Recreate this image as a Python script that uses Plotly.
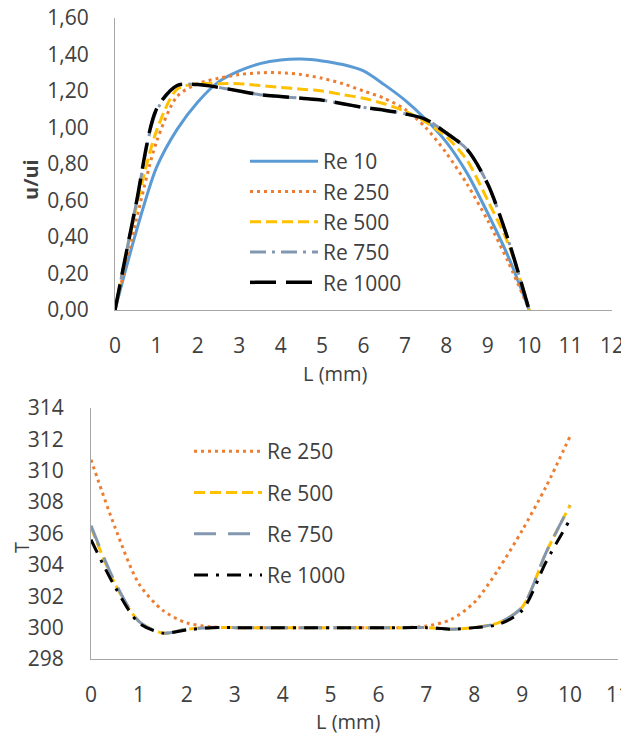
import plotly.graph_objects as go

# The page body adds an 8px offset; positions below are mapped from window pixels.
W, H = 629, 736
OFF = 8


def px_x(v):
    return (v - OFF) / W


def px_y(v):
    return 1 - (v - OFF) / H


# ---------------- data: top chart (u/ui vs L) ----------------
x_top = [0, 0.5, 1, 1.5, 2, 2.5, 3, 3.5, 4, 4.5, 5, 5.5, 6, 6.5, 7, 7.5, 8, 8.5, 9, 9.5, 10]
u_re10 = [0, 0.42, 0.78, 0.99, 1.14, 1.25, 1.31, 1.35, 1.37, 1.375, 1.365, 1.345, 1.31, 1.235, 1.15, 1.045, 0.92, 0.75, 0.53, 0.29, 0]
u_re250 = [0, 0.48, 0.92, 1.17, 1.24, 1.27, 1.29, 1.30, 1.30, 1.29, 1.27, 1.24, 1.20, 1.16, 1.10, 1.00, 0.86, 0.69, 0.49, 0.26, 0]
u_re500 = [0, 0.55, 0.98, 1.21, 1.24, 1.24, 1.24, 1.23, 1.22, 1.21, 1.20, 1.18, 1.16, 1.13, 1.09, 1.03, 0.95, 0.82, 0.60, 0.36, 0]
u_re750 = [0, 0.57, 1.09, 1.23, 1.235, 1.22, 1.20, 1.18, 1.17, 1.16, 1.15, 1.13, 1.11, 1.095, 1.075, 1.045, 0.97, 0.88, 0.69, 0.38, 0]
u_re1000 = [0, 0.57, 1.10, 1.23, 1.235, 1.22, 1.20, 1.18, 1.17, 1.16, 1.15, 1.13, 1.11, 1.095, 1.075, 1.045, 0.97, 0.88, 0.69, 0.38, 0]

# ---------------- data: bottom chart (T vs L) ----------------
x_bot = [0, 0.5, 1, 1.5, 2, 2.5, 3, 3.5, 4, 4.5, 5, 5.5, 6, 6.5, 7, 7.5, 8, 8.5, 9, 9.5, 10]
t_re250 = [310.7, 306.4, 302.8, 301.1, 300.3, 300.05, 300.0, 300.0, 300.0, 300.0, 300.0, 300.0, 300.0, 300.0, 300.1, 300.5, 301.6, 303.7, 306.2, 309.0, 312.2]
t_re500 = [306.4, 302.8, 300.4, 299.65, 299.9, 300.0, 300.0, 300.0, 300.0, 300.0, 300.0, 300.0, 300.0, 300.0, 300.0, 299.9, 300.0, 300.3, 301.3, 304.8, 307.8]
t_re750 = [306.5, 302.9, 300.4, 299.65, 299.9, 300.0, 300.0, 300.0, 300.0, 300.0, 300.0, 300.0, 300.0, 300.0, 300.0, 299.9, 300.0, 300.3, 301.3, 304.8, 307.8]
t_re1000 = [305.6, 302.6, 300.3, 299.65, 299.85, 300.0, 300.0, 300.0, 300.0, 300.0, 300.0, 300.0, 300.0, 300.0, 300.0, 299.9, 300.0, 300.2, 301.1, 304.2, 306.9]

top_names = ["Re 10", "Re 250", "Re 500", "Re 750", "Re 1000"]
bot_names = ["Re 250", "Re 500", "Re 750", "Re 1000"]
x_ticks_top = list(range(0, 13))
x_ticks_bot = list(range(0, 12))
y_ticks_top = [0, 0.2, 0.4, 0.6, 0.8, 1.0, 1.2, 1.4, 1.6]
y_ticks_bot = [298, 300, 302, 304, 306, 308, 310, 312, 314]

BLUE, ORANGE, YELLOW, GREY, BLACK = "#5B9BD5", "#ED7D31", "#FFC000", "#8497B0", "#000000"
FONT = "Open Sans"
TXT = "#404040"
AX = "#A6A6A6"
FS = 21

fig = go.Figure()

top_styles = [
    (u_re10, BLUE, "solid", 3),
    (u_re250, ORANGE, "3px,4px", 3),
    (u_re500, YELLOW, "11px,5px", 3),
    (u_re750, GREY, "16px,6px,3px,6px", 3),
    (u_re1000, BLACK, "26px,10px", 3.5),
]
for name, (ys, col, dash, w) in zip(top_names, top_styles):
    fig.add_trace(go.Scatter(x=x_top, y=ys, name=name, mode="lines",
                             line=dict(color=col, dash=dash, width=w, shape="spline", smoothing=0.8),
                             xaxis="x", yaxis="y", legend="legend",
                             legendgroup="t" + name))

bot_styles = [
    (t_re250, ORANGE, "3px,4px", 3),
    (t_re500, YELLOW, "11px,5px", 3),
    (t_re750, GREY, "22px,12px", 3),
    (t_re1000, BLACK, "14px,8px,3px,8px", 3),
]
for name, (ys, col, dash, w) in zip(bot_names, bot_styles):
    fig.add_trace(go.Scatter(x=x_bot, y=ys, name=name, mode="lines",
                             line=dict(color=col, dash=dash, width=w, shape="spline", smoothing=0.8),
                             xaxis="x2", yaxis="y2", legend="legend2",
                             legendgroup="b" + name))

axis_common = dict(showgrid=False, zeroline=False, showline=True, linecolor=AX, linewidth=1,
                   ticks="", tickfont=dict(family=FONT, size=FS, color=TXT), fixedrange=True,
                   automargin=False, ticklabeloverflow="allow")

fig.update_layout(
    width=W, height=H,
    margin=dict(l=0, r=0, t=0, b=0, autoexpand=False),
    paper_bgcolor="white", plot_bgcolor="white",
    separators=",.",
    showlegend=True,
    xaxis=dict(domain=[px_x(115), px_x(612)], range=[0, 12], tickmode="array",
               tickvals=x_ticks_top, anchor="y", ticklabelstandoff=17, **axis_common),
    yaxis=dict(domain=[px_y(310), px_y(18)], range=[0, 1.6], tickmode="array",
               tickvals=y_ticks_top, tickformat=".2f", anchor="x", ticklabelstandoff=21, **axis_common),
    xaxis2=dict(domain=[px_x(91), px_x(618)], range=[0, 11], tickmode="array",
                tickvals=x_ticks_bot, anchor="y2", ticklabelstandoff=17, **axis_common),
    yaxis2=dict(domain=[px_y(659), px_y(408)], range=[298, 314], tickmode="array",
                tickvals=y_ticks_bot, anchor="x2", ticklabelstandoff=22, **axis_common),
    legend=dict(x=px_x(245), y=px_y(141), xanchor="left", yanchor="top",
                font=dict(family=FONT, size=FS, color=TXT), bgcolor="rgba(0,0,0,0)",
                itemwidth=68, tracegroupgap=0),
    legend2=dict(x=px_x(189), y=px_y(431), xanchor="left", yanchor="top",
                 font=dict(family=FONT, size=FS, color=TXT), bgcolor="rgba(0,0,0,0)",
                 itemwidth=68, tracegroupgap=11),
    annotations=[
        dict(text="<b>u/ui</b>", x=px_x(30), y=px_y(180), xref="paper", yref="paper",
             xanchor="center", yanchor="middle",
             textangle=-90, showarrow=False, font=dict(family=FONT, size=20, color=TXT)),
        dict(text="L (mm)", x=px_x(335), y=px_y(373), xref="paper", yref="paper",
             xanchor="center", yanchor="middle",
             showarrow=False, font=dict(family=FONT, size=20, color=TXT)),
        dict(text="T", x=px_x(21), y=px_y(547), xref="paper", yref="paper",
             xanchor="center", yanchor="middle",
             textangle=-90, showarrow=False, font=dict(family=FONT, size=20, color=TXT)),
        dict(text="L (mm)", x=px_x(348), y=px_y(721), xref="paper", yref="paper",
             xanchor="center", yanchor="middle",
             showarrow=False, font=dict(family=FONT, size=20, color=TXT)),
    ],
)

fig.write_html("out.html")
